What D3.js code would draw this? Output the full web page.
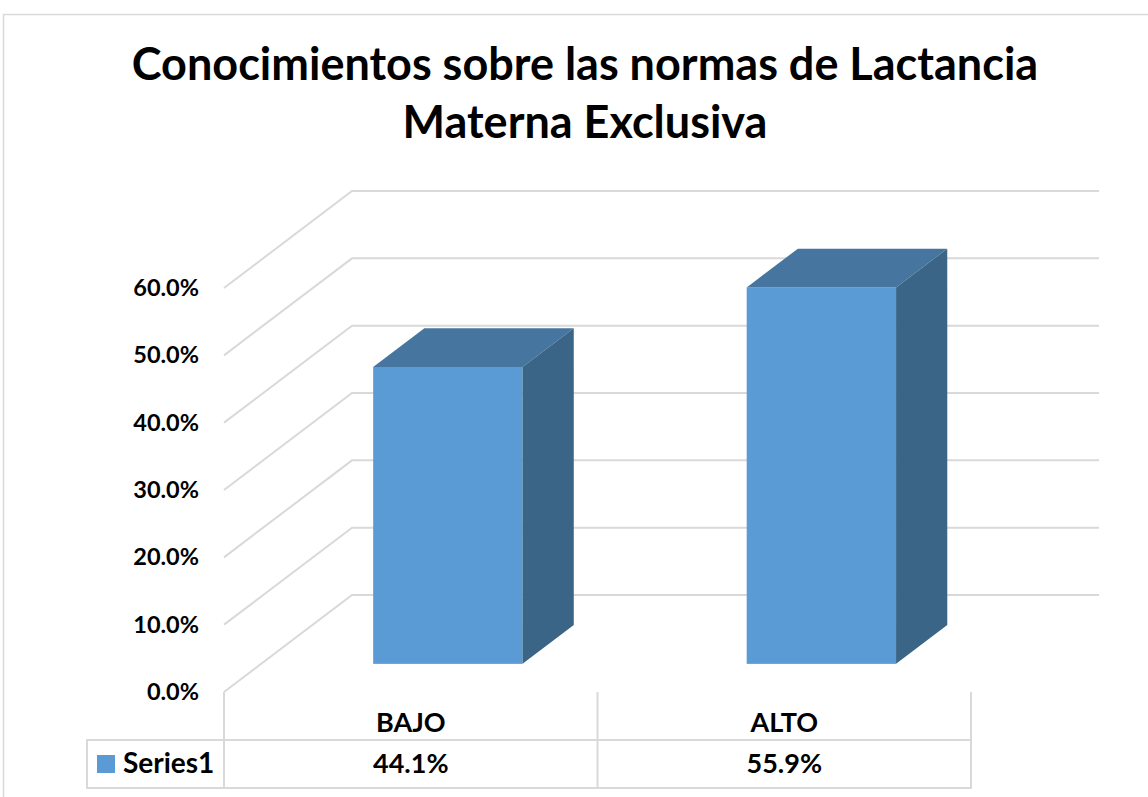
<!DOCTYPE html>
<meta charset="utf-8">
<script src="https://d3js.org/d3.v7.min.js"></script>
<style>
  body { margin: 0; background: #fff; }
  text { font-family: Lato, "Open Sans", sans-serif; font-weight: bold; fill: #000; }
</style>
<div id="chart"></div>
<script>
  // data
  var categories = ["BAJO", "ALTO"];
  var values = [0.441, 0.559];
  var valueLabels = ["44.1%", "55.9%"];
  var seriesName = "Series1";
  var yTicks = [0, 0.1, 0.2, 0.3, 0.4, 0.5, 0.6];
  var titleLines = ["Conocimientos sobre las normas de Lactancia", "Materna Exclusiva"];

  var W = 1148, H = 797;
  var svg = d3.select("#chart").append("svg")
    .attr("width", W).attr("height", H);

  // outer chart border (only top and left visible)
  svg.append("path")
    .attr("d", "M3.5," + H + "V14.5H" + W)
    .attr("fill", "none").attr("stroke", "#d9d9d9").attr("stroke-width", 1.5);

  // title
  svg.append("g").selectAll("text")
    .data(titleLines).enter().append("text")
    .attr("x", 585)
    .attr("y", function (d, i) { return 80 + i * 58; })
    .attr("text-anchor", "middle")
    .style("font-size", "45px")
    .text(function (d) { return d; });

  // scales for the front plane
  var y = d3.scaleLinear().domain([0, 0.6]).range([692, 288]);
  var x = d3.scaleBand().domain(categories).range([224, 971]);
  var DX = 128, DY = 97;  // depth offset of the back wall
  var f1 = 0.29, f2 = 0.69; // bar depth start/end

  var grid = "#d9d9d9";

  // walls: diagonal side lines + back horizontal lines
  svg.append("g").selectAll("path")
    .data(yTicks).enter().append("path")
    .attr("d", function (d) {
      var yy = y(d);
      return "M" + x.range()[0] + "," + yy +
        "L" + (x.range()[0] + DX) + "," + (yy - DY) +
        "L" + (x.range()[1] + DX) + "," + (yy - DY);
    })
    .attr("fill", "none").attr("stroke", grid).attr("stroke-width", 2);

  // y tick labels
  svg.append("g").selectAll("text")
    .data(yTicks).enter().append("text")
    .attr("x", 199)
    .attr("y", function (d) { return y(d) + 2; })
    .attr("text-anchor", "end")
    .attr("dominant-baseline", "middle")
    .style("font-size", "23.5px")
    .text(function (d) { return d3.format(".1%")(d); });

  // 3D bars
  var bw = x.bandwidth() * 0.4;
  var bars = svg.append("g").selectAll("g")
    .data(categories).enter().append("g");

  function geom(c, i) {
    var x0 = x(c) + (x.bandwidth() - bw) / 2 + f1 * DX;
    var yb = y(0) - f1 * DY;
    var yt = y(values[i]) - f1 * DY;
    var ddx = (f2 - f1) * DX, ddy = (f2 - f1) * DY;
    return { x0: x0, x1: x0 + bw, yb: yb, yt: yt, ddx: ddx, ddy: ddy };
  }

  bars.append("rect")
    .attr("x", function (d, i) { return geom(d, i).x0; })
    .attr("y", function (d, i) { return geom(d, i).yt; })
    .attr("width", bw)
    .attr("height", function (d, i) { var g = geom(d, i); return g.yb - g.yt; })
    .attr("fill", "#5b9bd5");

  bars.append("path")
    .attr("d", function (d, i) {
      var g = geom(d, i);
      return "M" + g.x0 + "," + g.yt + "L" + g.x1 + "," + g.yt +
        "L" + (g.x1 + g.ddx) + "," + (g.yt - g.ddy) +
        "L" + (g.x0 + g.ddx) + "," + (g.yt - g.ddy) + "Z";
    })
    .attr("fill", "#46769f");

  bars.append("path")
    .attr("d", function (d, i) {
      var g = geom(d, i);
      return "M" + g.x1 + "," + g.yt +
        "L" + (g.x1 + g.ddx) + "," + (g.yt - g.ddy) +
        "L" + (g.x1 + g.ddx) + "," + (g.yb - g.ddy) +
        "L" + g.x1 + "," + g.yb + "Z";
    })
    .attr("fill", "#3a6587");

  // data table
  var tbl = svg.append("g").attr("fill", "none").attr("stroke", grid).attr("stroke-width", 2);
  var rowTop = 740, rowBot = 788, legLeft = 87;
  tbl.append("rect")
    .attr("x", legLeft).attr("y", rowTop)
    .attr("width", x.range()[1] - legLeft).attr("height", rowBot - rowTop);
  tbl.selectAll("line.v")
    .data([x.range()[0]].concat(categories.map(function (c) { return x(c) + x.bandwidth(); })))
    .enter().append("line")
    .attr("x1", function (d) { return d; }).attr("x2", function (d) { return d; })
    .attr("y1", y(0)).attr("y2", rowBot);

  svg.append("g").selectAll("text")
    .data(categories).enter().append("text")
    .attr("x", function (d) { return x(d) + x.bandwidth() / 2; })
    .attr("y", 732)
    .attr("text-anchor", "middle")
    .style("font-size", "27px")
    .text(function (d) { return d; });

  svg.append("g").selectAll("text")
    .data(valueLabels).enter().append("text")
    .attr("x", function (d, i) { return x(categories[i]) + x.bandwidth() / 2; })
    .attr("y", 773)
    .attr("text-anchor", "middle")
    .style("font-size", "27px")
    .text(function (d) { return d; });

  // legend key
  svg.append("rect")
    .attr("x", 97).attr("y", 755).attr("width", 18).attr("height", 18)
    .attr("fill", "#5b9bd5");
  svg.append("text")
    .attr("x", 123).attr("y", 773)
    .style("font-size", "28px")
    .text(seriesName);
</script>
